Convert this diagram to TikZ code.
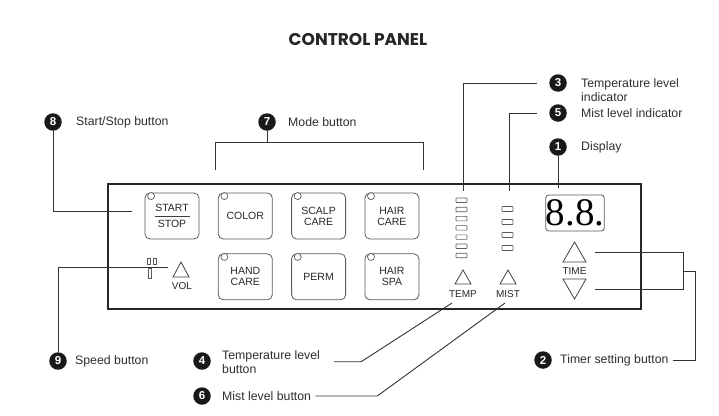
\documentclass[tikz,border=0pt]{standalone}
\usepackage{fontspec}
\setmainfont{Liberation Sans}
\newfontfamily\titlefont{Poppins}
\newfontfamily\lcdfont{Liberation Serif}
\usetikzlibrary{positioning}

\begin{document}
\begin{tikzpicture}[
    x=1pt, y=-1pt,
    node distance=14pt and 18.5pt,
    num/.style={circle, fill=black!90, text=white, font=\bfseries\fontsize{11.5}{11.5}\selectfont, minimum size=17.5pt, inner sep=0pt},
    lbl/.style={font=\fontsize{12.3}{14}\selectfont, text=black!82, align=left, inner sep=0pt},
    key/.style={draw=black!65, rounded corners=5pt, minimum width=54pt, minimum height=46pt, line width=0.8pt, font=\fontsize{10.5}{11}\selectfont, align=center, text=black!85},
    led/.style={circle, draw=black!65, fill=white, line width=0.7pt, minimum size=7pt, inner sep=0pt},
    ctl/.style={font=\fontsize{10}{10}\selectfont, text=black!85, inner sep=0pt},
    bar/.style={draw=black!65, line width=0.6pt},
    tri/.style={draw=black!75, line width=0.8pt, line join=miter},
    call/.style={draw=black!80, line width=0.9pt}
]
\useasboundingbox (0,0) rectangle (719,415);

\node[font=\titlefont\bfseries\fontsize{17}{17}\selectfont, text=black!85] (title) at (358,40) {CONTROL PANEL};

% the panel itself
\node[draw=black!85, line width=1.5pt, minimum width=533pt, minimum height=125pt, inner sep=0pt, anchor=north west] (panel) at (107,183) {};

% mode keys
\node[key] (startkey) at (172,216) {START\\[5pt]STOP};
\node[key, right=of startkey] (colorkey) {COLOR};
\node[key, right=of colorkey] (scalpkey) {SCALP\\CARE};
\node[key, right=of scalpkey] (haircarekey) {HAIR\\CARE};
\node[key, below=of colorkey] (handkey) {HAND\\CARE};
\node[key, below=of scalpkey] (permkey) {PERM};
\node[key, below=of haircarekey] (hairspakey) {HAIR\\SPA};
\draw[black!75, line width=0.7pt] ([xshift=-17.5pt]startkey.center) -- ([xshift=17.5pt]startkey.center);
\foreach \k in {startkey,colorkey,scalpkey,haircarekey,handkey,permkey,hairspakey}
  \node[led] (led-\k) at ([shift={(6.5,3.5)}]\k.north west) {};

% speed / volume
\draw[bar] (147,258) rectangle (150.5,264.5);
\draw[bar] (153,258) rectangle (156.5,264.5);
\draw[bar] (148,268) rectangle (151.5,278);
\draw[tri] (173,277) -- (181,262) -- (189,277) -- cycle;
\node[ctl] (vol) at (182,286) {VOL};

% level indicators
\foreach \i in {0,...,6}
  \draw[bar, rounded corners=0.5pt] (456,{198+9.2*\i}) rectangle (467,{202.5+9.2*\i});
\foreach \i in {0,...,3}
  \draw[bar, rounded corners=0.5pt] (502,{206.5+13*\i}) rectangle (513,{211.5+13*\i});
\draw[tri] (455,284) -- (463,270) -- (471,284) -- cycle;
\node[ctl] (temp) at (463,294) {TEMP};
\draw[tri] (500,284) -- (508,270) -- (516,284) -- cycle;
\node[ctl] (mist) at (508,294) {MIST};

% display and timer
\node[draw=black!65, rounded corners=3pt, line width=0.8pt, minimum width=56pt, minimum height=36pt, inner sep=0pt, font=\lcdfont\fontsize{39}{39}\selectfont] (lcd) at (575,213) {8.8.};
\draw[tri] (563,262) -- (574.5,242) -- (586,262) -- cycle;
\node[ctl] (time) at (574.5,271) {TIME};
\draw[tri] (563,279) -- (574.5,299) -- (586,279) -- cycle;

% callouts
\node[num] (c8) at (53,122) {8};
\node[lbl, anchor=west] (l8) at (76,122) {Start/Stop button};
\node[num] (c7) at (267,122) {7};
\node[lbl, anchor=west] (l7) at (288,122) {Mode button};
\node[num] (c3) at (558,83) {3};
\node[lbl, anchor=north west] (l3) at (581,78) {Temperature level\\indicator};
\node[num] (c5) at (558,113) {5};
\node[lbl, anchor=west] (l5) at (581,113) {Mist level indicator};
\node[num] (c1) at (558,147) {1};
\node[lbl, anchor=west] (l1) at (581,147) {Display};
\node[num] (c9) at (58,361) {9};
\node[lbl, anchor=west] (l9) at (75,361) {Speed button};
\node[num] (c4) at (202,361) {4};
\node[lbl, anchor=north west] (l4) at (222,350) {Temperature level\\button};
\node[num] (c6) at (202,396) {6};
\node[lbl, anchor=west] (l6) at (222,396) {Mist level button};
\node[num] (c2) at (543,360) {2};
\node[lbl, anchor=west] (l2) at (560,360) {Timer setting button};

\coordinate (p8) at (132,211);
\coordinate (b7) at (267,142);
\coordinate (m7a) at (215,170);
\coordinate (m7b) at (423,170);
\coordinate (t3) at (463,191);
\coordinate (t5) at (509,191);
\coordinate (t1) at (558,188);
\coordinate (t9) at (168,267);
\coordinate (t4) at (452,303);
\coordinate (t6) at (505,303);
\coordinate (tu) at (595,252);
\coordinate (td) at (595,289);
\coordinate (j2) at (683,271);

\draw[call] (c8) |- (p8);
\draw[call] (c7) -- (b7);
\draw[call] (m7a) -- ++(0,-28) -| (m7b);
\draw[call] ([xshift=-12pt]c3.west) -| (t3);
\draw[call] ([xshift=-12pt]c5.west) -| (t5);
\draw[call] (c1) -- (t1);
\draw[call] (c9) |- (t9);
\draw[call] ([xshift=14pt]l4.east) -- ++(27,0) -- (t4);
\draw[call] ([xshift=4pt]l6.east) -- ++(62,0) -- (t6);
\draw[call] (tu) -- (tu -| j2) -- (td -| j2) -- (td);
\draw[call] (j2) -- ++(12,0) |- ([xshift=4pt]l2.east);
\end{tikzpicture}
\end{document}
